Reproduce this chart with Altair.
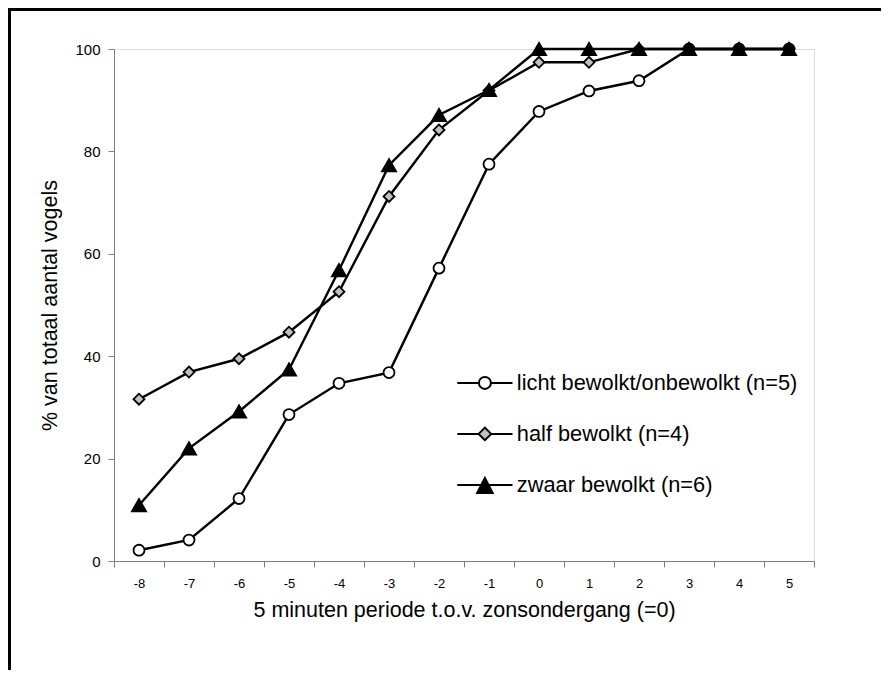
import altair as alt
import pandas as pd

periods = [-8, -7, -6, -5, -4, -3, -2, -1, 0, 1, 2, 3, 4, 5]
series_names = ["licht bewolkt/onbewolkt (n=5)", "half bewolkt (n=4)", "zwaar bewolkt (n=6)"]
licht = [2.1, 4.1, 12.2, 28.6, 34.7, 36.8, 57.2, 77.5, 87.8, 91.8, 93.8, 100, 100, 100]
half = [31.6, 36.9, 39.5, 44.7, 52.6, 71.2, 84.2, 91.9, 97.4, 97.4, 100, 100, 100, 100]
zwaar = [10.9, 22.0, 29.2, 37.4, 56.8, 77.3, 87.1, 92.0, 100, 100, 100, 100, 100, 100]
y_ticks = [0, 20, 40, 60, 80, 100]
marker_shapes = ["circle", "diamond", "triangle-up"]
marker_fills = ["white", "#c0c0c0", "black"]
marker_sizes = [120, 120, 200]

x_title = "5 minuten periode t.o.v. zonsondergang (=0)"
y_title = "% van totaal aantal vogels"

rows = []
for name, vals in zip(series_names, [licht, half, zwaar]):
    for p, v in zip(periods, vals):
        rows.append({"periode": p, "pct": v, "serie": name})
df = pd.DataFrame(rows)

FONT = "Liberation Sans"
GRAY = "#808080"

x_enc = alt.X(
    "periode:O",
    scale=alt.Scale(type="band", domain=periods, paddingInner=0, paddingOuter=0),
    axis=alt.Axis(
        title=x_title, labelAngle=0, tickBand="extent", tickSize=6,
        labelPadding=10, titlePadding=9, labelFontSize=13, titleFontSize=21.5,
        domainColor=GRAY, tickColor=GRAY, grid=False, labelColor="black",
        titleColor="black", titleFontWeight="normal", labelFont=FONT, titleFont=FONT,
    ),
)
y_enc = alt.Y(
    "pct:Q",
    scale=alt.Scale(domain=[0, 100], nice=False),
    axis=alt.Axis(
        title=y_title, values=y_ticks, tickSize=6, labelPadding=8, titlePadding=13,
        labelFontSize=15, titleFontSize=21.5, domainColor=GRAY, tickColor=GRAY,
        grid=False, labelColor="black", titleColor="black", titleFontWeight="normal",
        labelFont=FONT, titleFont=FONT,
    ),
)

base = alt.Chart(df)

lines = base.mark_line(color="black", strokeWidth=2.4).encode(
    x=x_enc, y=y_enc, detail="serie:N"
)

point_layers = []
for name, shp, fl, sz in zip(series_names, marker_shapes, marker_fills, marker_sizes):
    point_layers.append(
        base.transform_filter(alt.datum.serie == name).mark_point(
            shape=shp, filled=True, fill=fl, stroke="black", strokeWidth=1.8,
            size=sz, opacity=1,
        ).encode(x=x_enc, y=y_enc)
    )

legend_paths = [
    "M -4.6 0 H -1 M 1 0 H 4.6 M -1 0 A 1 1 0 1 0 1 0 A 1 1 0 1 0 -1 0 Z",
    "M -4.6 0 H -1.05 M 1.05 0 H 4.6 M 0 -1.05 L 1.05 0 L 0 1.05 L -1.05 0 Z",
    "M -4.6 0 H 4.6 M 0 -1.15 L 1.3 1.35 L -1.3 1.35 Z",
]
leg = alt.Legend(
    title=None, orient="none", legendX=360, legendY=323, symbolSize=144,
    symbolStrokeWidth=2, labelFontSize=21.8, labelFont=FONT,
    labelColor="black", labelOffset=21, rowPadding=28, padding=0, labelLimit=500,
    symbolOpacity=1,
)
legend_layer = base.transform_filter("false").mark_point(
    filled=True, strokeWidth=2, opacity=1
).encode(
    x=x_enc,
    y=y_enc,
    shape=alt.Shape("serie:N", scale=alt.Scale(domain=series_names, range=legend_paths), legend=leg),
    fill=alt.Fill("serie:N", scale=alt.Scale(domain=series_names, range=marker_fills), legend=leg),
    stroke=alt.Stroke("serie:N", scale=alt.Scale(domain=series_names, range=["black", "black", "black"]), legend=leg),
)

one = pd.DataFrame({"a": [0]})
border_top = alt.Chart(one).mark_rule(color="black", strokeWidth=3).encode(
    x=alt.value(-106), x2=alt.value(767), y=alt.value(-39.5)
)
border_left = alt.Chart(one).mark_rule(color="black", strokeWidth=3).encode(
    x=alt.value(-104.5), y=alt.value(-41), y2=alt.value(621)
)

chart = alt.layer(lines, *point_layers, legend_layer, border_top, border_left).properties(
    width=700, height=512,
    padding={"left": 106, "top": 41, "right": 67, "bottom": 109},
    autosize=alt.AutoSizeParams(type="none"),
).configure_view(stroke=None).configure(font=FONT)

chart.save("out.html", embed_options={"renderer": "svg", "actions": False})
